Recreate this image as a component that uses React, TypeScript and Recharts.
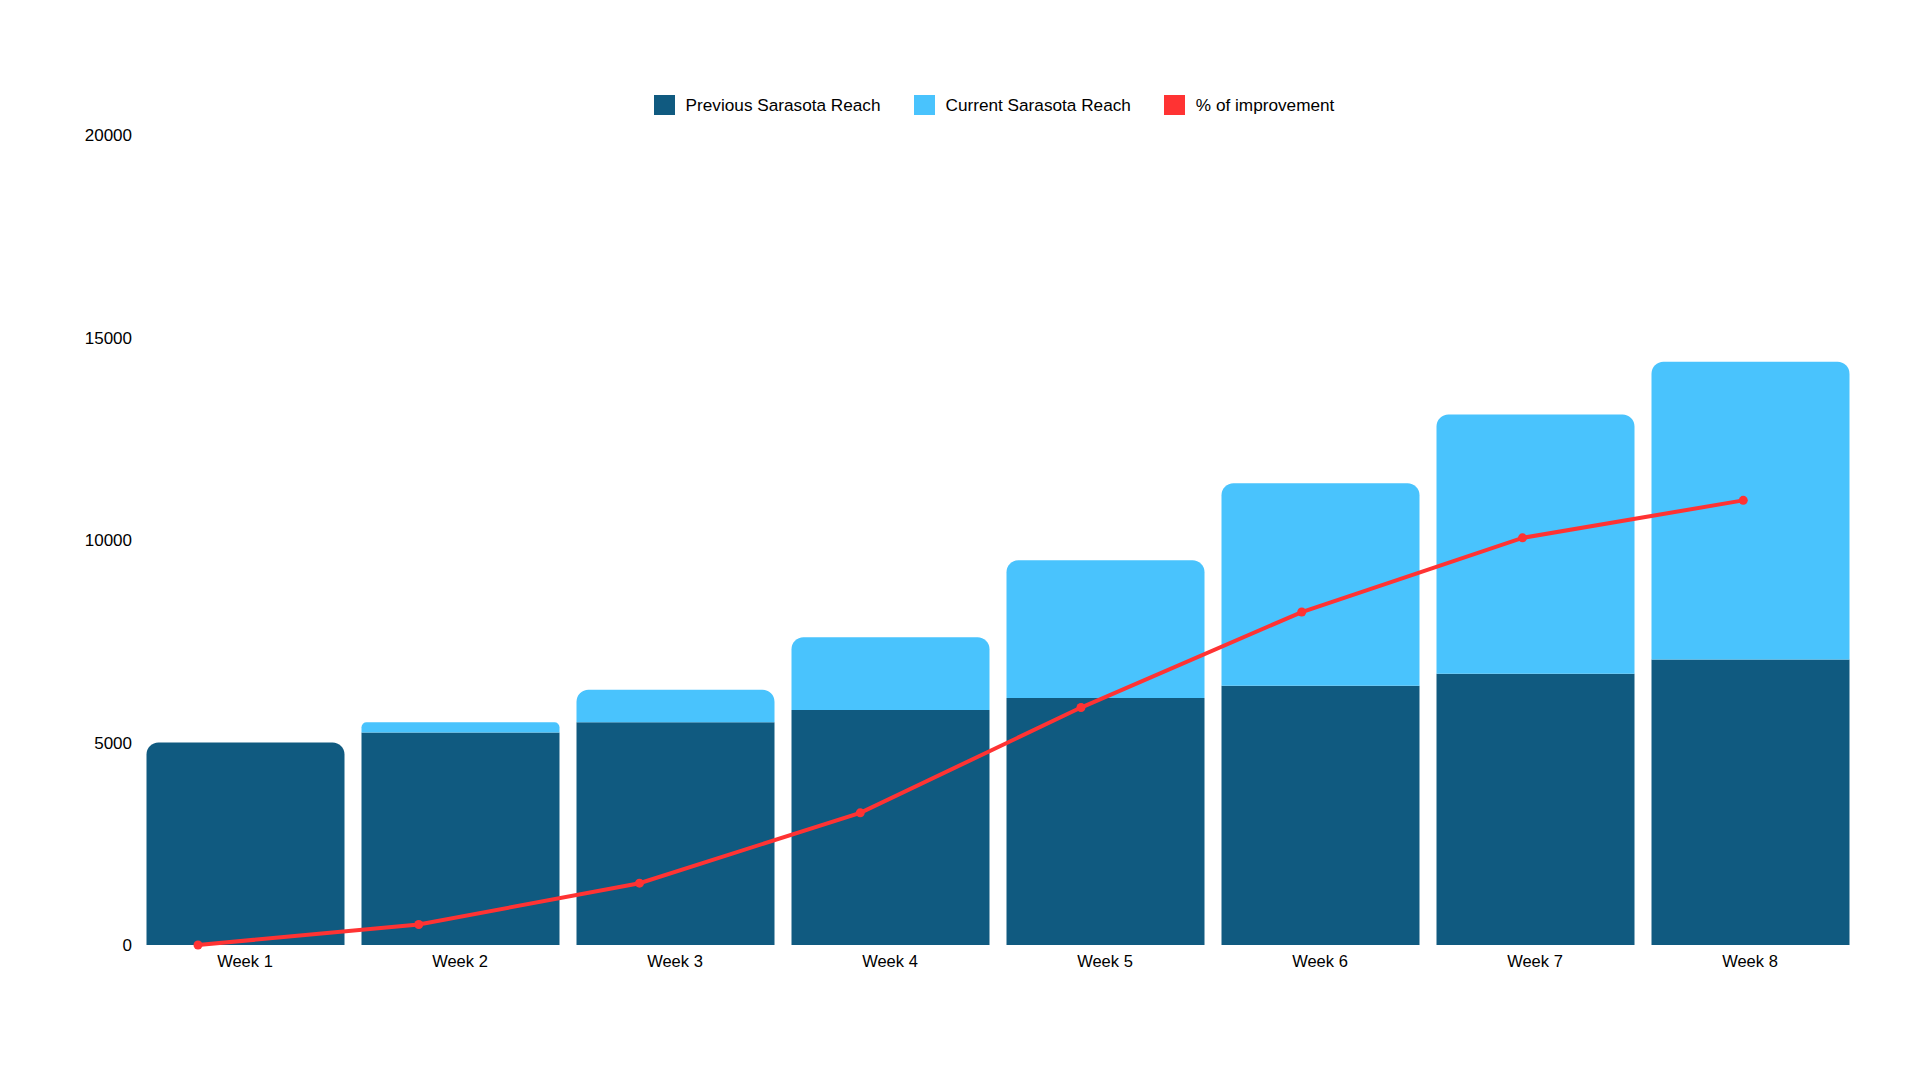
import React from "react";
import {
  ComposedChart,
  Bar,
  Line,
  XAxis,
  YAxis,
  Legend,
  Rectangle,
} from "recharts";

const weeks = ["Week 1", "Week 2", "Week 3", "Week 4", "Week 5", "Week 6", "Week 7", "Week 8"];
const previousReach = [5000, 5250, 5500, 5800, 6100, 6400, 6700, 7050];
const currentReach = [0, 250, 800, 1800, 3400, 5000, 6400, 7350];
const improvement = [0, 4.8, 14.5, 31, 55.7, 78.1, 95.5, 104.3];
const yTicks = [0, 5000, 10000, 15000, 20000];

const COLORS = {
  previous: "#105a80",
  current: "#49c3fd",
  improvement: "#ff3333",
};

const LEGEND_ITEMS = [
  { label: "Previous Sarasota Reach", color: COLORS.previous },
  { label: "Current Sarasota Reach", color: COLORS.current },
  { label: "% of improvement", color: COLORS.improvement },
];

const FONT = '"Liberation Sans", Arial, Helvetica, sans-serif';

const data = weeks.map((week, i) => ({
  week,
  previous: previousReach[i],
  current: currentReach[i],
  improvement: improvement[i],
}));

// top of the stack gets rounded corners, inner segments stay square
const PreviousShape = (props: any) => {
  const onTop = !props.payload || !props.payload.current;
  return <Rectangle {...props} radius={onTop ? [12, 12, 0, 0] : 0} />;
};

const LegendContent = () => (
  <div
    style={{
      height: 51,
      boxSizing: "border-box",
      paddingTop: 10,
      paddingLeft: 68,
      display: "flex",
      justifyContent: "center",
      alignItems: "flex-start",
      fontFamily: FONT,
      fontSize: 17.2,
      color: "#000",
    }}
  >
    {LEGEND_ITEMS.map((item, i) => (
      <div
        key={item.label}
        style={{ display: "flex", alignItems: "center", marginLeft: i === 0 ? 0 : 33, height: 22 }}
      >
        <span style={{ width: 21, height: 20, background: item.color, display: "inline-block", marginRight: 11 }} />
        <span>{item.label}</span>
      </div>
    ))}
  </div>
);

export default function App() {
  return (
    <div style={{ position: "absolute", left: 0, top: 0, width: 1920, height: 1080, fontFamily: FONT }}>
      <ComposedChart
        width={1920}
        height={1080}
        data={data}
        margin={{ top: 84, right: 62.5, left: 57.5, bottom: 105 }}
      >
        <XAxis
          xAxisId="bar"
          dataKey="week"
          axisLine={false}
          tickLine={false}
          height={30}
          tickMargin={4.5}
          tick={{ fontSize: 16.5, fill: "#000", fontFamily: FONT }}
        />
        <XAxis
          xAxisId="line"
          dataKey="week"
          hide
          scale="point"
          padding={{ left: 60.5, right: 114.25 }}
        />
        <YAxis
          yAxisId="left"
          width={80}
          domain={[0, 20000]}
          ticks={yTicks}
          axisLine={false}
          tickLine={false}
          tick={{ fontSize: 17, fill: "#000", fontFamily: FONT, dx: 2.5 }}
        />
        <YAxis yAxisId="pct" orientation="right" hide domain={[0, 190]} />
        <Legend verticalAlign="top" content={<LegendContent />} wrapperStyle={{ left: 0, width: 1920 }} />
        <Bar
          xAxisId="bar"
          yAxisId="left"
          dataKey="previous"
          name="Previous Sarasota Reach"
          stackId="reach"
          fill={COLORS.previous}
          barSize={198}
          shape={PreviousShape}
          isAnimationActive={false}
        />
        <Bar
          xAxisId="bar"
          yAxisId="left"
          dataKey="current"
          name="Current Sarasota Reach"
          stackId="reach"
          fill={COLORS.current}
          barSize={198}
          radius={[12, 12, 0, 0]}
          isAnimationActive={false}
        />
        <Line
          xAxisId="line"
          yAxisId="pct"
          dataKey="improvement"
          name="% of improvement"
          stroke={COLORS.improvement}
          strokeWidth={4}
          dot={{ r: 4.5, fill: COLORS.improvement, stroke: COLORS.improvement, strokeWidth: 0 }}
          activeDot={false}
          isAnimationActive={false}
        />
      </ComposedChart>
    </div>
  );
}
